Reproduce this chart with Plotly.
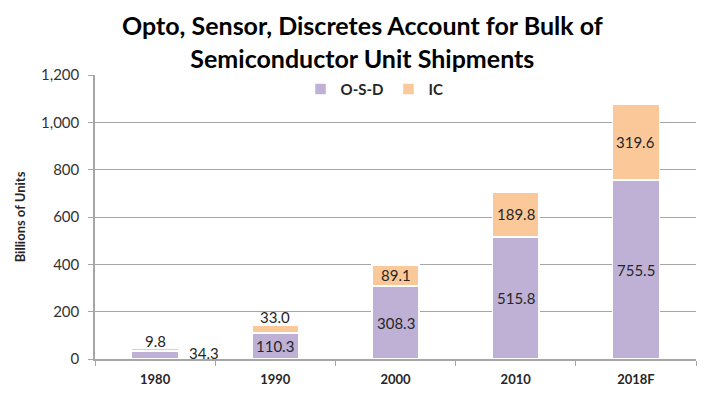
import plotly.graph_objects as go

years = ["1980", "1990", "2000", "2010", "2018F"]
osd = [34.3, 110.3, 308.3, 515.8, 755.5]
ic = [9.8, 33.0, 89.1, 189.8, 319.6]
y_ticks = [0, 200, 400, 600, 800, 1000, 1200]

PURPLE = "#bfb1d6"
ORANGE = "#fbc999"
TXT = "#262626"
FONT = "Lato"

xpos = list(range(len(years)))
boundaries = [i - 0.5 for i in range(len(years) + 1)]

fig = go.Figure()
fig.add_trace(go.Bar(
    x=xpos, y=osd, name="<b>O-S-D</b>", width=0.39,
    marker=dict(color=PURPLE, line=dict(color="white", width=1.5)),
))
fig.add_trace(go.Bar(
    x=xpos, y=ic, name="<b>IC</b>", width=0.39,
    marker=dict(color=ORANGE, line=dict(color="white", width=1.5)),
))

lab_font = dict(family=FONT, size=15, color=TXT)
for i, (o, c) in enumerate(zip(osd, ic)):
    if o < 60:
        fig.add_annotation(x=xpos[i], y=o / 2, text=f"{o:.1f}", showarrow=False,
                           xshift=49, yshift=2, font=lab_font)
    else:
        fig.add_annotation(x=xpos[i], y=o / 2, text=f"{o:.1f}", showarrow=False, font=lab_font)
    if c < 60:
        fig.add_annotation(x=xpos[i], y=o + c, text=f"{c:.1f}", showarrow=False,
                           yanchor="bottom", yshift=-3, font=lab_font)
    else:
        fig.add_annotation(x=xpos[i], y=o + c / 2, text=f"{c:.1f}", showarrow=False, font=lab_font)

fig.add_annotation(
    text="<b>Opto, Sensor, Discretes Account for Bulk of<br>Semiconductor Unit Shipments</b>",
    xref="paper", yref="paper", x=0.445, y=1.0, yanchor="bottom", xanchor="center",
    yshift=0, showarrow=False, font=dict(family=FONT, size=25, color="#000000"),
)

# page body adds an 8px offset, so the figure is sized to fit the 710x399 window
fig.update_layout(
    width=702, height=391,
    barmode="stack",
    paper_bgcolor="white", plot_bgcolor="white",
    margin=dict(l=82, r=14, t=67, b=32),
    legend=dict(orientation="h", x=0.342, xanchor="left", y=0.95, yanchor="middle",
                traceorder="normal",
                bgcolor="rgba(0,0,0,0)", font=dict(family=FONT, size=15, color=TXT)),
    showlegend=True,
    font=dict(family=FONT, color=TXT),
)
fig.update_xaxes(
    range=[-0.5, 4.5], showline=True, linecolor="#a6a6a6", linewidth=1.5,
    tickvals=xpos, ticktext=[f"<b>{y}</b>" for y in years], ticks="",
    ticklabelstandoff=8,
    minor=dict(tickvals=boundaries, ticks="outside", ticklen=5, tickcolor="#a6a6a6", showgrid=False),
    tickfont=dict(family=FONT, size=13, color=TXT), showgrid=False, zeroline=False,
)
fig.update_yaxes(
    range=[0, 1200], tickvals=y_ticks, tickformat=",",
    showline=True, linecolor="#a6a6a6", linewidth=1.5,
    ticks="outside", tickcolor="#a6a6a6", ticklen=5, ticklabelstandoff=6,
    showgrid=True, gridcolor="#a6a6a6", gridwidth=1.2, zeroline=False,
    tickfont=dict(family=FONT, size=15, color="#333333"),
    title=dict(text="<b>Billions of Units</b>", font=dict(family=FONT, size=13, color=TXT), standoff=12),
)

fig.write_html("out.html")
